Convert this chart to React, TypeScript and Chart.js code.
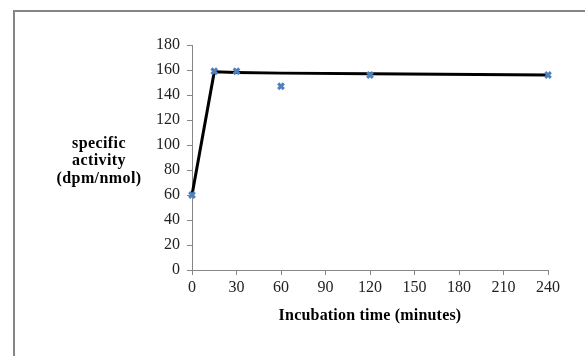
import React, { useEffect, useRef } from "react";
import { Chart, registerables } from "chart.js";

Chart.register(...registerables);

const timeMinutes = [0, 15, 30, 60, 120, 240];
const activity = [60, 159, 159, 147, 156, 156];
const fitTime = [0, 15, 30, 60, 120, 240];
const fitActivity = [60, 158.5, 158, 157.5, 157, 156];
const yTitleLines = ["specific", "activity", "(dpm/nmol)"];
const xTitle = "Incubation time (minutes)";

const frameAndTitles = {
  id: "frameAndTitles",
  beforeDraw(chart: any) {
    const ctx = chart.ctx;
    ctx.save();
    ctx.fillStyle = "#ffffff";
    ctx.fillRect(0, 0, chart.width, chart.height);
    ctx.strokeStyle = "#858585";
    ctx.lineWidth = 2;
    ctx.strokeRect(14, 11, chart.width + 20, chart.height + 20);
    ctx.restore();
  },
  afterDraw(chart: any) {
    const ctx = chart.ctx;
    const area = chart.chartArea;
    ctx.save();
    ctx.fillStyle = "#000000";
    ctx.font = "bold 16px 'Liberation Serif'";
    (ctx as any).letterSpacing = "0.4px";
    ctx.textAlign = "center";
    ctx.textBaseline = "middle";
    const cy = 161;
    const lh = 17.5;
    yTitleLines.forEach((line, i) => {
      ctx.fillText(line, 99, cy + (i - 1) * lh);
    });
    (ctx as any).letterSpacing = "0.2px";
    ctx.fillText(xTitle, (area.left + area.right) / 2, 316);
    ctx.restore();
  },
};

export default function App() {
  const ref = useRef<HTMLCanvasElement>(null);
  useEffect(() => {
    if (!ref.current) return;
    const chart = new Chart(ref.current, {
      type: "scatter",
      data: {
        datasets: [
          {
            type: "scatter",
            label: "measured",
            data: timeMinutes.map((t, i) => ({ x: t, y: activity[i] })),
            pointStyle: "crossRot",
            pointRadius: 4,
            pointBorderWidth: 3,
            borderColor: "#4F81BD",
            backgroundColor: "#4F81BD",
            clip: false,
            order: 1,
          } as any,
          {
            type: "line",
            label: "fit",
            data: fitTime.map((t, i) => ({ x: t, y: fitActivity[i] })),
            borderColor: "#000000",
            borderWidth: 3,
            pointRadius: 0,
            tension: 0,
            fill: false,
            clip: false,
            order: 2,
          } as any,
        ],
      },
      options: {
        animation: false,
        responsive: false,
        maintainAspectRatio: false,
        layout: { padding: { top: 45, right: 37, left: 0, bottom: 0 } },
        plugins: {
          legend: { display: false },
          tooltip: { enabled: false },
        },
        scales: {
          x: {
            type: "linear",
            min: 0,
            max: 240,
            ticks: {
              stepSize: 30,
              color: "#222222",
              font: { family: "'Liberation Serif'", size: 16 },
              padding: 3,
              maxRotation: 0,
            },
            grid: {
              display: true,
              drawOnChartArea: false,
              drawTicks: true,
              tickLength: 5,
              color: "#868686",
            },
            border: { color: "#868686", width: 1 },
            afterFit: (s: any) => {
              s.height = 86;
            },
          },
          y: {
            type: "linear",
            min: 0,
            max: 180,
            ticks: {
              stepSize: 20,
              color: "#222222",
              font: { family: "'Liberation Serif'", size: 16 },
              padding: 7,
            },
            grid: {
              display: true,
              drawOnChartArea: false,
              drawTicks: true,
              tickLength: 5,
              color: "#868686",
            },
            border: { color: "#868686", width: 1 },
            afterFit: (s: any) => {
              s.width = 192;
            },
          },
        },
      },
      plugins: [frameAndTitles],
    });
    return () => chart.destroy();
  }, []);
  return (
    <div style={{ position: "fixed", left: 0, top: 0, width: 585, height: 356 }}>
      <canvas ref={ref} width={585} height={356} style={{ display: "block" }} />
    </div>
  );
}
